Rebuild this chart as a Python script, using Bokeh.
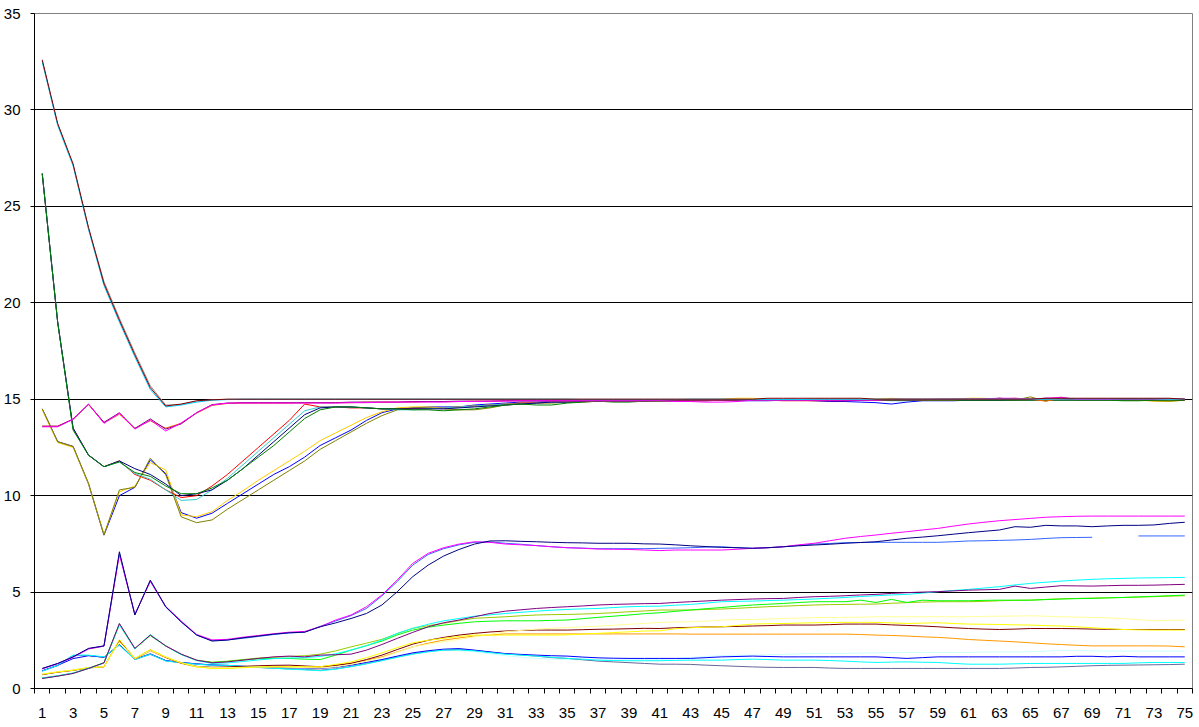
from bokeh.plotting import figure
from bokeh.models import Range1d, FixedTicker
from bokeh.embed import file_html
from bokeh.resources import INLINE

nan = float("nan")

CATS = list(range(1, 76))
X_TICK_LABELS = list(range(1, 76, 2))
Y_TICKS = [0, 5, 10, 15, 20, 25, 30, 35]

# ---------------- upper group (converging to 15) ----------------
A_DARKRED = [32.6, 29.3, 27.2, 23.9, 21.0, 19.1, 17.3, 15.6, 14.65, 14.75,
             14.92, 14.97, 15.0, 15.0, 15.0, 15.0, 15.0, 15.0, 15.0, 15.0,
             15.0, 15.0, 15.0, 15.0, 15.0, 15.0, 15.0, 15.0, 15.0, 15.0,
             15.0, 15.0, 15.0, 15.0, 15.0, 15.0, 15.0, 15.0, 15.0, 15.0,
             15.0, 15.0, 15.0, 15.0, 15.0, 15.0, 15.0, 15.05, 15.05, 15.05,
             15.05, 15.05, 15.05, 15.05, 15.0, 15.0, 15.0, 15.0, 15.0, 15.0,
             15.0, 15.0, 15.0, 15.0, 15.0, 15.05, 15.05, 15.05, 15.05, 15.05,
             15.05, 15.05, 15.05, 15.05, 15.0]
A_SKY = [32.5, 29.2, 27.1, 23.8, 20.9, 19.0, 17.2, 15.5, 14.6, 14.7,
         14.85, 14.95, 14.98, 15.0, 15.0, 15.0, 15.0, 15.0, 15.0, 15.0,
         15.0, 15.0, 15.0, 15.0, 15.0, 15.0, 15.0, 15.0, 15.0, 15.0,
         15.0, 15.0, 15.0, 15.0, 15.0, 14.98, 14.98, 14.98, 14.98, 14.98,
         14.98, 14.98, 15.0, 15.0, 15.0, 14.98, 14.98, 14.98, 14.98, 14.98,
         15.0, 15.0, 15.0, 15.0, 15.0, 15.0, 15.0, 15.0, 15.0, 15.0,
         15.0, 15.0, 15.0, 15.0, 15.0, 15.0, 15.02, 15.02, 15.02, 15.02,
         15.02, 15.02, 15.02, 15.0, 15.0]
A_GRAY = [32.55, 29.25, 27.15, 23.85, 21.1, 19.2, 17.4, 15.7, 14.7, 14.72,
          14.9, 14.96, 15.0, 15.0, 15.0, 15.0, 15.0, 15.0, 15.0, 15.0,
          15.0, 15.0, 15.0, 15.0, 15.0, 15.0, 15.0, 15.0, 15.0, 15.0,
          15.0, 15.0, 15.0, 15.0, 15.0, 15.0, 15.0, 15.0, 15.0, 15.0,
          15.0, 15.0, 15.0, 15.0, 15.0, 15.0, 15.0, 15.0, 15.0, 15.0,
          15.0, 15.0, 15.0, 15.0, 15.0, 15.0, 15.0, 15.0, 15.0, 15.0,
          15.0, 15.0, 15.0, 15.0, 15.0, 15.0, 15.0, 15.03, 15.03, 15.03,
          15.03, 15.03, 15.03, 15.0, 15.0]
G_GREEN = [26.7, 19.0, 13.4, 12.1, 11.5, 11.75, 11.2, 11.0, 10.5, 10.1,
           10.1, 10.4, 10.8, 11.4, 12.0, 12.6, 13.3, 14.0, 14.45, 14.6,
           14.6, 14.55, 14.5, 14.5, 14.45, 14.45, 14.4, 14.45, 14.5, 14.6,
           14.7, 14.75, 14.7, 14.7, 14.8, 14.85, 14.9, 14.85, 14.85, 14.9,
           14.9, 14.9, 14.92, 14.95, 14.95, 14.95, 14.95, 14.95, 14.95, 14.95,
           14.95, 14.95, 14.95, 14.95, 14.95, 14.95, 14.95, 14.95, 14.95, 14.95,
           14.95, 14.95, 14.95, 14.95, 14.95, 14.95, 14.95, 14.95, 14.95, 14.95,
           14.92, 14.92, 14.95, 14.95, 14.95]
G_RED = [26.7, 19.0, 13.5, 12.1, 11.5, 11.8, 11.1, 10.8, 10.3, 9.9,
         10.0, 10.5, 11.1, 11.8, 12.5, 13.2, 13.9, 14.75, 14.6, 14.6,
         14.55, 14.55, 14.5, 14.5, 14.5, 14.5, 14.55, 14.6, 14.65, 14.7,
         14.75, 14.8, 14.8, 14.85, 14.85, 14.9, 14.9, 14.9, 14.9, 14.95,
         14.95, 14.95, 14.95, 14.95, 14.95, 14.95, 14.95, 14.95, 14.92, 14.92,
         14.92, 14.92, 14.92, 14.95, 14.95, 14.95, 14.95, 14.95, 14.95, 14.95,
         14.95, 14.95, 14.95, 14.95, 14.97, 14.97, 14.97, 14.97, 14.97, 14.97,
         14.97, 14.97, 14.97, 14.97, 14.97]
G_TEAL = [26.7, 19.0, 13.45, 12.1, 11.5, 11.75, 11.15, 10.85, 10.3, 9.75,
          9.8, 10.3, 10.9, 11.6, 12.3, 13.0, 13.7, 14.4, 14.6, 14.6,
          14.6, 14.55, 14.5, 14.45, 14.45, 14.5, 14.55, 14.6, 14.65, 14.7,
          14.75, 14.75, 14.8, 14.85, 14.85, 14.9, 14.9, 14.9, 14.9, 14.9,
          14.95, 14.95, 14.95, 14.95, 14.95, 14.95, 14.95, 14.95, 14.95, 14.95,
          14.95, 14.95, 14.95, 14.95, 14.95, 14.92, 14.92, 14.95, 14.95, 14.95,
          14.97, 14.97, 14.97, 14.97, 14.97, 14.97, 14.97, 14.97, 14.97, 14.97,
          14.97, 15.0, 15.0, 15.0, 15.0]
G_NAVY = [26.7, 19.0, 13.5, 12.1, 11.5, 11.8, 11.4, 11.1, 10.6, 10.0,
          10.1, 10.3, 10.8, 11.4, 12.1, 12.8, 13.5, 14.2, 14.55, 14.6,
          14.6, 14.55, 14.5, 14.5, 14.5, 14.5, 14.5, 14.55, 14.6, 14.65,
          14.7, 14.75, 14.8, 14.85, 14.85, 14.88, 14.88, 14.9, 14.9, 14.9,
          14.92, 14.92, 14.92, 14.92, 14.95, 14.95, 14.95, 14.95, 14.95, 14.95,
          14.95, 14.95, 14.95, 14.95, 14.95, 14.95, 14.95, 14.95, 14.95, 14.95,
          14.95, 14.95, 14.95, 14.97, 14.97, 14.97, 14.97, 14.97, 14.97, 14.97,
          14.97, 14.97, 14.97, 14.97, 14.97]
Y_BLUE = [14.5, 12.8, 12.55, 10.6, 7.95, 10.0, 10.43, 11.85, 11.15, 9.12,
          8.83, 9.09, 9.6, 10.1, 10.6, 11.1, 11.5, 12.0, 12.6, 13.0,
          13.4, 13.9, 14.3, 14.5, 14.55, 14.6, 14.6, 14.6, 14.7, 14.75,
          14.8, 14.85, 14.85, 14.88, 14.9, 14.9, 14.9, 14.9, 14.92, 14.92,
          14.92, 14.92, 14.95, 14.95, 14.95, 14.92, 14.92, 14.92, 14.95, 14.95,
          14.92, 14.88, 14.88, 14.85, 14.82, 14.75, 14.85, 14.92, 14.92, 14.92,
          14.95, 14.95, 14.95, 14.97, 14.97, 14.97, 14.97, 14.97, 14.97, 14.97,
          14.97, 14.97, 15.0, 15.0, 15.0]
Y_OLIVE = [14.5, 12.8, 12.55, 10.64, 7.96, 10.3, 10.43, 11.94, 11.08, 8.9,
           8.6, 8.74, 9.3, 9.8, 10.3, 10.8, 11.3, 11.8, 12.4, 12.85,
           13.3, 13.75, 14.15, 14.45, 14.55, 14.55, 14.5, 14.45, 14.45, 14.55,
           14.7, 14.75, 14.8, 14.8, 14.85, 14.85, 14.9, 14.9, 14.9, 14.9,
           14.9, 14.92, 14.95, 14.95, 14.95, 14.95, 14.95, 14.95, 14.95, 14.95,
           14.95, 14.95, 14.95, 14.95, 14.95, 14.95, 14.95, 14.95, 14.95, 15.0,
           14.95, 14.95, 15.05, 14.95, 15.12, 14.9, 15.1, 14.95, 14.95, 14.95,
           14.95, 14.95, 14.92, 14.9, 14.95]
Y_GOLD = [14.45, 12.75, 12.5, 10.6, 8.0, 10.2, 10.5, 11.71, 11.33, 9.0,
          8.91, 9.17, 9.75, 10.25, 10.8, 11.3, 11.8, 12.3, 12.85, 13.25,
          13.65, 14.05, 14.35, 14.55, 14.6, 14.6, 14.55, 14.6, 14.65, 14.7,
          14.75, 14.8, 14.8, 14.85, 14.85, 14.9, 14.9, 14.9, 14.92, 14.92,
          14.92, 14.95, 14.95, 14.95, 15.0, 15.05, 15.05, 15.0, 14.95, 14.95,
          14.95, 14.95, 14.95, 14.95, 15.0, 15.05, 15.0, 15.0, 15.0, 15.0,
          15.05, 15.05, 15.0, 15.0, 15.0, 15.0, 15.0, 15.0, 15.0, 14.95,
          14.95, 14.95, 14.9, 14.88, 14.95]
M_MAGENTA = [13.57, 13.57, 13.96, 14.75, 13.75, 14.27, 13.45, 13.92, 13.35, 13.77,
             14.3, 14.7, 14.8, 14.8, 14.8, 14.8, 14.8, 14.8, 14.8, 14.8,
             14.82, 14.82, 14.85, 14.85, 14.85, 14.85, 14.85, 14.88, 14.88, 14.9,
             14.9, 14.92, 14.92, 14.92, 14.92, 14.92, 14.92, 14.92, 14.92, 14.92,
             14.92, 14.88, 14.88, 14.85, 14.85, 14.88, 14.95, 14.95, 14.95, 14.95,
             14.95, 14.95, 14.95, 14.95, 14.95, 15.0, 15.0, 15.0, 15.0, 15.0,
             15.0, 15.02, 15.05, 15.05, 15.0, 15.05, 15.1, 15.0, 15.0, 15.0,
             15.02, 15.02, 15.02, 15.0, 15.0]
M_ORANGE = [13.6, 13.6, 13.95, 14.72, 13.78, 14.22, 13.5, 13.88, 13.5, 13.75,
            14.28, 14.68, 14.78, 14.8, 14.8, 14.8, 14.8, 14.82, 14.82, 14.82,
            14.82, 14.85, 14.85, 14.85, 14.85, 14.88, 14.88, 14.88, 14.9, 14.9,
            14.92, 14.92, 14.92, 14.92, 14.92, 14.92, 14.92, 14.92, 14.92, 14.92,
            14.92, 14.92, 14.92, 14.92, 14.95, 14.95, 14.95, 14.95, 14.95, 14.95,
            14.95, 14.95, 14.97, 14.97, 14.97, 14.97, 14.97, 14.97, 14.97, 14.97,
            15.0, 15.0, 15.0, 15.05, 15.0, 14.9, 15.05, 15.0, 15.0, 15.0,
            15.0, 15.0, 15.0, 15.0, 15.0]
M_PURPLE = [13.6, 13.6, 13.97, 14.74, 13.8, 14.3, 13.48, 13.98, 13.45, 13.72,
            14.3, 14.72, 14.8, 14.82, 14.82, 14.82, 14.82, 14.82, 14.82, 14.82,
            14.85, 14.85, 14.85, 14.85, 14.88, 14.88, 14.88, 14.9, 14.9, 14.9,
            14.92, 14.92, 14.92, 14.92, 14.92, 14.92, 14.92, 14.92, 14.92, 14.92,
            14.95, 14.95, 14.95, 14.95, 14.95, 14.95, 14.95, 14.95, 14.95, 14.95,
            14.95, 14.95, 14.95, 14.95, 14.97, 14.97, 14.97, 14.97, 15.0, 15.0,
            15.0, 15.0, 15.05, 15.0, 15.0, 15.05, 15.0, 15.0, 15.0, 15.0,
            15.0, 15.0, 15.0, 15.0, 15.0]

# ---------------- lower group ----------------
L_NAVY = [1.04, 1.30, 1.64, 2.08, 2.21, 7.09, 3.81, 5.62, 4.24, 3.46,
          2.77, 2.46, 2.51, 2.63, 2.72, 2.82, 2.89, 2.92, 3.20, 3.40,
          3.63, 3.89, 4.33, 5.02, 5.80, 6.40, 6.87, 7.21, 7.49, 7.65,
          7.66, 7.63, 7.61, 7.58, 7.56, 7.55, 7.53, 7.53, 7.53, 7.50,
          7.49, 7.45, 7.40, 7.36, 7.32, 7.30, 7.27, 7.30, 7.35, 7.40,
          7.44, 7.48, 7.53, 7.57, 7.61, 7.70, 7.79, 7.85, 7.92, 8.00,
          8.08, 8.15, 8.22, 8.39, 8.36, 8.46, 8.43, 8.43, 8.39, 8.43,
          8.46, 8.46, 8.48, 8.56, 8.62]
L_MAGENTA = [1.02, 1.28, 1.62, 2.05, 2.20, 6.95, 3.85, 5.55, 4.25, 3.50,
             2.80, 2.52, 2.55, 2.66, 2.75, 2.84, 2.92, 2.96, 3.20, 3.55,
             3.81, 4.24, 4.85, 5.63, 6.49, 7.01, 7.30, 7.49, 7.61, 7.58,
             7.49, 7.45, 7.41, 7.35, 7.30, 7.27, 7.23, 7.22, 7.21, 7.18,
             7.15, 7.18, 7.18, 7.18, 7.18, 7.22, 7.27, 7.30, 7.35, 7.45,
             7.53, 7.66, 7.79, 7.88, 7.96, 8.05, 8.13, 8.22, 8.30, 8.42,
             8.53, 8.62, 8.70, 8.76, 8.82, 8.88, 8.91, 8.93, 8.94, 8.94,
             8.94, 8.94, 8.94, 8.94, 8.94]
L_ROYAL = [1.03, 1.29, 1.63, 2.06, 2.20, 7.00, 3.83, 5.58, 4.22, 3.45,
           2.78, 2.48, 2.52, 2.60, 2.70, 2.80, 2.88, 2.92, 3.22, 3.50,
           3.78, 4.15, 4.80, 5.55, 6.40, 6.95, 7.25, 7.45, 7.58, 7.60,
           7.53, 7.48, 7.41, 7.35, 7.30, 7.28, 7.25, 7.25, 7.25, 7.25,
           7.27, 7.28, 7.30, 7.33, 7.35, 7.30, 7.27, 7.30, 7.35, 7.42,
           7.49, 7.52, 7.56, 7.57, 7.58, 7.58, 7.58, 7.58, 7.58, 7.61,
           7.65, 7.66, 7.68, 7.70, 7.73, 7.78, 7.82, 7.83, 7.84, nan,
           nan, 7.91, 7.91, 7.91, 7.91]
L_PURPLE = [0.52, 0.64, 0.78, 1.04, 1.33, 3.37, 2.08, 2.77, 2.21, 1.78,
            1.47, 1.33, 1.38, 1.47, 1.56, 1.64, 1.68, 1.64, 1.73, 1.75,
            1.78, 1.99, 2.28, 2.60, 2.91, 3.20, 3.41, 3.55, 3.72, 3.89,
            4.01, 4.08, 4.15, 4.20, 4.24, 4.28, 4.33, 4.36, 4.38, 4.40,
            4.41, 4.46, 4.50, 4.54, 4.58, 4.61, 4.64, 4.66, 4.67, 4.72,
            4.76, 4.78, 4.81, 4.85, 4.88, 4.93, 4.97, 5.00, 5.02, 5.06,
            5.10, 5.12, 5.14, 5.31, 5.19, 5.26, 5.33, 5.32, 5.31, 5.33,
            5.35, 5.35, 5.36, 5.38, 5.40]
L_CYAN_MID = [0.55, 0.66, 0.80, 1.05, 1.32, 3.30, 2.05, 2.80, 2.20, 1.76,
              1.45, 1.30, 1.33, 1.40, 1.48, 1.55, 1.58, 1.60, 1.66, 1.80,
              1.99, 2.22, 2.51, 2.86, 3.12, 3.33, 3.51, 3.63, 3.75, 3.82,
              3.89, 3.95, 4.01, 4.06, 4.10, 4.13, 4.15, 4.20, 4.24, 4.26,
              4.27, 4.32, 4.36, 4.43, 4.50, 4.52, 4.53, 4.56, 4.58, 4.61,
              4.64, 4.68, 4.72, 4.77, 4.81, 4.85, 4.88, 4.95, 5.02, 5.08,
              5.14, 5.21, 5.28, 5.37, 5.45, 5.51, 5.57, 5.62, 5.66, 5.69,
              5.71, 5.73, 5.74, 5.75, 5.76]
L_GREEN = [0.53, 0.65, 0.79, 1.04, 1.33, 3.35, 2.06, 2.75, 2.20, 1.77,
           1.46, 1.35, 1.40, 1.48, 1.54, 1.56, 1.56, 1.52, 1.50, 1.73,
           1.99, 2.22, 2.46, 2.78, 3.03, 3.18, 3.29, 3.38, 3.46, 3.49,
           3.51, 3.51, 3.51, 3.53, 3.55, 3.62, 3.69, 3.75, 3.81, 3.88,
           3.93, 4.00, 4.07, 4.14, 4.20, 4.27, 4.33, 4.37, 4.41, 4.46,
           4.50, 4.50, 4.50, 4.58, 4.46, 4.62, 4.46, 4.58, 4.55, 4.55,
           4.55, 4.57, 4.58, 4.58, 4.58, 4.61, 4.64, 4.66, 4.67, 4.70,
           4.72, 4.75, 4.78, 4.81, 4.84]
L_YGREEN = [0.54, 0.65, 0.80, 1.05, 1.34, 3.32, 2.07, 2.76, 2.21, 1.78,
            1.47, 1.36, 1.42, 1.50, 1.58, 1.62, 1.66, 1.70, 1.78, 1.95,
            2.16, 2.35, 2.55, 2.85, 3.12, 3.26, 3.38, 3.52, 3.64, 3.68,
            3.72, 3.77, 3.81, 3.83, 3.84, 3.86, 3.89, 3.93, 3.98, 4.02,
            4.07, 4.07, 4.07, 4.10, 4.12, 4.16, 4.20, 4.24, 4.27, 4.30,
            4.33, 4.35, 4.36, 4.37, 4.38, 4.42, 4.45, 4.48, 4.50, 4.50,
            4.50, 4.52, 4.55, 4.57, 4.58, 4.62, 4.65, 4.67, 4.69, 4.70,
            4.72, 4.74, 4.76, 4.79, 4.81]
L_YELLOW = [0.74, 0.86, 0.95, 1.08, 1.12, 2.54, 1.56, 2.02, 1.64, 1.33,
            1.12, 1.04, 1.04, 1.08, 1.12, 1.13, 1.13, 1.13, 1.13, 1.25,
            1.38, 1.60, 1.85, 2.12, 2.37, 2.50, 2.60, 2.70, 2.77, 2.77,
            2.77, 2.77, 2.77, 2.77, 2.78, 2.82, 2.86, 2.90, 2.94, 2.98,
            2.99, 3.10, 3.15, 3.18, 3.20, 3.27, 3.34, 3.36, 3.37, 3.39,
            3.41, 3.42, 3.43, 3.43, 3.43, 3.40, 3.37, 3.39, 3.41, 3.37,
            3.34, 3.33, 3.32, 3.30, 3.29, 3.26, 3.24, 3.20, 3.15, 3.10,
            3.06, 3.04, 3.03, 3.03, 3.03]
L_DARKRED = [0.72, 0.85, 0.94, 1.07, 1.12, 2.50, 1.55, 2.00, 1.62, 1.32,
             1.15, 1.10, 1.12, 1.15, 1.18, 1.20, 1.21, 1.17, 1.13, 1.20,
             1.30, 1.50, 1.73, 2.02, 2.30, 2.50, 2.65, 2.77, 2.86, 2.93,
             2.98, 3.01, 3.03, 3.03, 3.03, 3.05, 3.07, 3.08, 3.10, 3.12,
             3.11, 3.15, 3.17, 3.19, 3.20, 3.22, 3.24, 3.26, 3.29, 3.29,
             3.29, 3.31, 3.34, 3.34, 3.34, 3.30, 3.27, 3.24, 3.20, 3.15,
             3.11, 3.08, 3.06, 3.08, 3.11, 3.11, 3.11, 3.10, 3.08, 3.07,
             3.06, 3.06, 3.06, 3.06, 3.06]
L_ORANGE = [0.73, 0.85, 0.95, 1.08, 1.13, 2.45, 1.52, 1.95, 1.60, 1.30,
            1.12, 1.06, 1.06, 1.10, 1.12, 1.12, 1.12, 1.10, 1.10, 1.20,
            1.32, 1.47, 1.64, 1.90, 2.16, 2.35, 2.51, 2.62, 2.72, 2.78,
            2.83, 2.83, 2.83, 2.83, 2.83, 2.83, 2.83, 2.83, 2.83, 2.83,
            2.83, 2.83, 2.82, 2.82, 2.82, 2.82, 2.82, 2.82, 2.82, 2.82,
            2.82, 2.82, 2.82, 2.80, 2.77, 2.75, 2.72, 2.68, 2.65, 2.60,
            2.54, 2.50, 2.46, 2.42, 2.37, 2.32, 2.28, 2.24, 2.21, 2.21,
            2.21, 2.21, 2.21, 2.20, 2.16]
L_LIGHTYELLOW = [0.75, 0.87, 0.96, 1.09, 1.13, 2.40, 1.55, 1.98, 1.63, 1.34,
                 1.14, 1.08, 1.08, 1.10, 1.12, 1.12, 1.10, 1.08, 1.06, 1.12,
                 1.25, 1.42, 1.60, 1.88, 2.16, 2.30, 2.42, 2.55, 2.68, 2.81,
                 2.94, 3.01, 3.08, 3.12, 3.16, 3.20, 3.23, 3.28, 3.33, 3.37,
                 3.43, 3.45, 3.46, 3.50, 3.55, 3.57, 3.58, 3.60, 3.63, 3.65,
                 3.68, 3.68, 3.68, 3.70, 3.72, 3.72, 3.72, 3.72, 3.72, 3.72,
                 3.72, 3.74, 3.75, 3.76, 3.77, 3.75, 3.72, 3.70, 3.68, 3.66,
                 3.63, 3.57, 3.51, 3.53, 3.55]
L_BLUE = [0.92, 1.20, 1.55, 1.70, 1.62, 2.28, 1.52, 1.80, 1.45, 1.35,
          1.28, 1.22, 1.20, 1.15, 1.12, 1.10, 1.08, 1.06, 1.04, 1.10,
          1.21, 1.35, 1.50, 1.68, 1.85, 1.96, 2.04, 2.07, 1.99, 1.90,
          1.81, 1.77, 1.73, 1.70, 1.68, 1.63, 1.59, 1.57, 1.56, 1.56,
          1.56, 1.56, 1.56, 1.60, 1.64, 1.66, 1.68, 1.66, 1.64, 1.64,
          1.64, 1.64, 1.64, 1.64, 1.64, 1.60, 1.56, 1.60, 1.64, 1.64,
          1.64, 1.64, 1.64, 1.64, 1.64, 1.64, 1.64, 1.67, 1.67, 1.64,
          1.67, 1.64, 1.64, 1.64, 1.64]
L_CYAN = [0.90, 1.20, 1.73, 1.73, 1.64, 2.25, 1.50, 1.78, 1.43, 1.33,
          1.26, 1.21, 1.20, 1.15, 1.10, 1.05, 1.00, 0.97, 0.92, 1.00,
          1.13, 1.28, 1.44, 1.62, 1.78, 1.90, 1.99, 2.00, 1.95, 1.86,
          1.78, 1.73, 1.68, 1.62, 1.56, 1.52, 1.47, 1.45, 1.44, 1.44,
          1.44, 1.46, 1.47, 1.47, 1.47, 1.50, 1.52, 1.50, 1.47, 1.47,
          1.47, 1.45, 1.42, 1.38, 1.35, 1.37, 1.38, 1.36, 1.35, 1.30,
          1.26, 1.26, 1.26, 1.28, 1.30, 1.30, 1.30, 1.30, 1.30, 1.30,
          1.30, 1.33, 1.35, 1.35, 1.35]
L_LIGHTCYAN = [0.88, 1.18, 1.70, 1.72, 1.63, 2.22, 1.50, 1.75, 1.42, 1.32,
               1.25, 1.20, 1.18, 1.14, 1.08, 1.04, 1.00, 0.96, 0.94, 1.02,
               1.15, 1.30, 1.47, 1.65, 1.80, 1.92, 1.98, 1.96, 1.90, 1.80,
               1.70, 1.62, 1.56, 1.52, 1.50, 1.49, 1.48, 1.48, 1.49, 1.50,
               1.50, 1.55, 1.61, 1.66, 1.70, 1.72, 1.73, 1.75, 1.76, 1.79,
               1.82, 1.82, 1.82, 1.84, 1.85, 1.86, 1.87, 1.87, 1.87, 1.87,
               1.87, 1.89, 1.90, 1.90, 1.90, 1.94, 1.99, 1.97, 1.95, 1.94,
               1.94, 1.94, 1.94, 1.94, 1.94]
L_GRAYBLUE = [0.91, 1.19, 1.72, 1.71, 1.62, 2.26, 1.51, 1.77, 1.44, 1.34,
              1.27, 1.22, 1.19, 1.14, 1.09, 1.05, 1.02, 0.98, 0.95, 1.02,
              1.14, 1.29, 1.46, 1.64, 1.80, 1.92, 2.00, 2.02, 1.97, 1.88,
              1.80, 1.74, 1.68, 1.60, 1.56, 1.49, 1.42, 1.38, 1.34, 1.30,
              1.26, 1.26, 1.25, 1.21, 1.18, 1.15, 1.12, 1.10, 1.09, 1.09,
              1.09, 1.06, 1.04, 1.04, 1.04, 1.04, 1.04, 1.04, 1.04, 1.04,
              1.04, 1.04, 1.04, 1.06, 1.09, 1.10, 1.12, 1.15, 1.18, 1.20,
              1.21, 1.22, 1.23, 1.24, 1.26]

SERIES = [
    (L_LIGHTCYAN, "#CCFFFF"), (L_GRAYBLUE, "#666699"), (L_BLUE, "#0000FF"),
    (L_CYAN, "#00FFFF"), (L_ORANGE, "#FF9900"), (L_DARKRED, "#800000"),
    (L_LIGHTYELLOW, "#FFFF99"), (L_YELLOW, "#FFFF00"), (L_YGREEN, "#99CC00"),
    (L_GREEN, "#00FF00"), (L_CYAN_MID, "#00FFFF"), (L_PURPLE, "#800080"),
    (L_ROYAL, "#3366FF"), (L_MAGENTA, "#FF00FF"), (L_NAVY, "#000080"),
    (Y_BLUE, "#0000FF"), (Y_GOLD, "#FFCC00"), (Y_OLIVE, "#808000"),
    (G_RED, "#FF0000"), (G_TEAL, "#33CCCC"), (G_NAVY, "#000080"), (G_GREEN, "#008000"),
    (M_ORANGE, "#FF6600"), (M_PURPLE, "#800080"), (M_MAGENTA, "#FF00FF"),
    (A_GRAY, "#969696"), (A_SKY, "#00CCFF"), (A_DARKRED, "#800000"),
]
for vals, _c in SERIES:
    assert len(vals) == 75, len(vals)

p = figure(frame_width=1158, frame_height=675, output_backend="svg",
           toolbar_location=None, x_range=Range1d(0.5, 75.5), y_range=Range1d(0, 35),
           min_border_left=33, min_border_top=13, min_border_right=8, min_border_bottom=38)
p.background_fill_color = "white"
p.border_fill_color = "white"
p.outline_line_color = "#808080"
p.outline_line_width = 1

for vals, c in SERIES:
    p.line(CATS, vals, line_color=c, line_width=1)

font = "Liberation Sans"
p.yaxis.ticker = FixedTicker(ticks=Y_TICKS)
p.yaxis.major_tick_out = 4
p.yaxis.major_tick_in = 0
p.yaxis.minor_tick_line_color = None
p.yaxis.axis_line_color = "black"
p.yaxis.major_tick_line_color = "black"
p.yaxis.major_label_standoff = 10
p.yaxis.major_label_text_font = font
p.yaxis.major_label_text_font_size = "15px"
p.yaxis.major_label_text_color = "black"

p.xaxis.ticker = FixedTicker(ticks=X_TICK_LABELS, minor_ticks=[i + 0.5 for i in range(0, 76)])
p.xaxis.major_tick_out = 0
p.xaxis.major_tick_in = 0
p.xaxis.minor_tick_out = 5
p.xaxis.minor_tick_in = 0
p.xaxis.minor_tick_line_color = "black"
p.xaxis.axis_line_color = "black"
p.xaxis.major_label_standoff = 14
p.xaxis.major_label_text_font = font
p.xaxis.major_label_text_font_size = "15px"
p.xaxis.major_label_text_color = "black"

p.xgrid.grid_line_color = None
p.ygrid.ticker = FixedTicker(ticks=[5, 10, 15, 20, 25, 30])
p.ygrid.grid_line_color = "black"
p.ygrid.grid_line_width = 1

open("out.html", "w").write(file_html(p, INLINE))
